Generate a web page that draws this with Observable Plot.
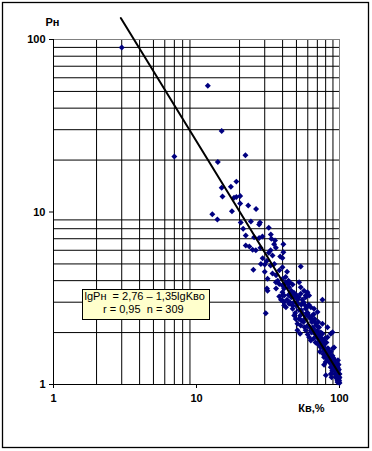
<!DOCTYPE html>
<html><head><meta charset="utf-8">
<script src="https://cdn.jsdelivr.net/npm/d3@7"></script>
<script src="https://cdn.jsdelivr.net/npm/@observablehq/plot@0.6"></script>
<style>body{margin:0;background:#fff} svg{display:block}</style>
</head><body><div id="chart"></div>
<script>
// Кв, % (x) and Рн (y) for each observation
const kv = [3,12,15,7,22,14.1,19,17.4,15,15.2,18.3,19,20.2,20.2,23,26.1,17.7,12.9,14,20.4,24,27.8,27.4,21.2,32,
  22.1,25.3,27.4,28.9,33.1,33.4,22.1,23.4,24.7,26,34.9,35.9,40.5,40.5,38.5,39.9,28.2,30,39.9,25,53.6,31.4,35.9,37.9,39.9,
  43.3,44.4,45.6,52.2,53.6,56.5,59.7,58,31.1,31.4,39.9,41,76,37.9,30.5,41,42.2,44.4,46.9,39.9,41,53.6,58,61.3,48.2,49.4,
  50.8,53.6,63,66.4,70.2,64.7,66.4,68.3,72,50.8,53,58,61.3,63,76,82.4,86.9,89.3,70.2,74,78,82.4,78,82.4,84.6,86.9,89.3,
  92.7,96.8,80.2,86.9,94.2,96.8,99,94.2,96.8,96.8,82.4,35.4,91.7,76,
  36,38,42,44,36,39,43,41,37,45,46,47,
  48,50,52,54,49,51,53,55,47,56,50,54,
  57,59,60,62,64,58,61,63,65,60,66,57,
  67,69,71,73,68,70,72,74,75,66,71,73,
  76,78,80,82,84,77,79,81,83,85,80,78,
  86,88,90,92,94,87,89,91,93,95,88,90,
  96,97,98,99,100,97,98,99.5,96,100,98.5,97.5,
  29,31,33,30,32,34,28,33,35,34,
  40,42,44,46,48,43,45,47,49,40,
  51,52,55,57,59,52,56,58,54,60,
  61,63,65,67,69,62,64,66,68,70,
  71,73,75,77,79,72,74,76,78,80,
  81,83,85,87,89,82,84,86,88,90,
  91,92,93,94,95,96,97,98,99,100,99,97];
const pn = [90,54,29.5,21,21.3,19.5,15,14,13.8,12.3,12.1,12.2,12.4,11.2,10.9,10.4,10.1,9.7,9.05,8.7,8.8,8.7,8.46,8,8.1,
  7.3,7.14,7.06,7.2,7.4,7.0,6.4,6.3,6.04,6,6.5,6.2,6.5,5.85,5.52,5.42,5,4.96,4.79,4.62,4.83,4.1,3.92,3.83,3.75,
  3.83,3.66,3.43,3.92,3.66,3.5,3.43,3.28,3.6,3.5,3.43,3.28,3.1,3.24,2.59,2.87,2.8,2.94,2.87,3.07,3.0,3.36,3.2,3.28,2.51,2.4,
  2.25,2.2,2.8,2.75,2.63,2.51,2.35,2.25,2.15,2.06,1.97,2.06,1.88,1.8,1.97,1.88,1.97,2.01,1.72,1.64,1.57,1.54,1.44,1.38,1.35,1.26,1.47,
  1.38,1.32,1.13,1.15,1.1,1.05,1.03,1.18,1.2,1.26,2.15,6.84,1.64,2.25,
  4.3,4.6,4.2,3.3,3.6,3.1,4.5,3.6,4.0,3.9,3.2,3.8,
  3.0,3.3,2.7,2.9,2.6,3.1,2.5,2.6,2.75,3.0,2.85,2.35,
  2.4,2.6,2.2,2.45,2.3,2.75,2.9,2.05,2.15,1.95,2.55,2.15,
  2.0,1.9,1.95,1.8,1.75,2.05,1.7,2.0,1.75,1.85,2.3,1.55,
  1.65,1.7,1.6,1.45,1.5,1.5,1.85,1.75,1.62,1.42,1.35,1.3,
  1.45,1.4,1.3,1.25,1.3,1.55,1.2,1.42,1.15,1.22,1.1,1.62,
  1.18,1.12,1.08,1.15,1.1,1.25,1.2,1.05,1.08,1.02,1.3,1.38,
  5.4,5.2,4.9,4.5,5.8,4.4,6.2,6.0,5.0,5.6,
  4.1,3.9,4.0,3.5,3.4,3.1,3.0,3.3,3.2,3.3,
  2.95,3.2,3.1,2.9,2.8,2.4,2.3,2.5,2.7,2.6,
  2.5,2.4,2.35,2.4,2.2,2.15,2.0,2.1,1.95,1.9,
  1.85,1.9,1.85,1.78,1.6,1.95,1.8,1.7,1.62,1.5,
  1.55,1.5,1.55,1.45,1.35,1.6,1.4,1.35,1.3,1.42,
  1.3,1.35,1.28,1.22,1.15,1.3,1.18,1.12,1.08,1.15,1.22,1.03];

const xTicks = [1, 10, 100];
const yTicks = [1, 10, 100];
const gridX = [2,3,4,5,6,7,8,9,20,30,40,50,60,70,80,90];
const gridY = [2,3,4,5,6,7,8,9,20,30,40,50,60,70,80,90];
const trendA = 2.76, trendB = -1.35;
const trendX = [2.955, 100];
const eqLine1 = "lgPн  = 2,76 – 1,35lgKво";
const eqLine2 = "r = 0,95  n = 309";
const yTitle = "Рн";
const xTitle = "Кв,%";

const points = kv.map((k, i) => ({k, p: pn[i]}));
const trend = trendX.map(k => ({k, p: Math.pow(10, trendA + trendB * Math.log10(k))}));

const font = "Arial, 'Liberation Sans', sans-serif";
const chart = Plot.plot({
  width: 372, height: 451,
  marginLeft: 53, marginRight: 33, marginTop: 39, marginBottom: 67,
  style: {fontFamily: font, background: "#fff", color: "#000"},
  x: {type: "log", domain: [1, 100]},
  y: {type: "log", domain: [1, 100]},
  marks: [
    Plot.ruleX(gridX, {stroke: "#000", strokeWidth: 1}),
    Plot.ruleY(gridY, {stroke: "#000", strokeWidth: 1}),
    Plot.ruleX([100], {stroke: "#808080"}),
    Plot.ruleY([100], {stroke: "#808080"}),
    Plot.ruleX([1], {stroke: "#000"}),
    Plot.ruleY([1], {stroke: "#000"}),
    Plot.axisX(xTicks, {tickSize: 4, tickPadding: 6, tickFormat: d => String(d), label: null, fontWeight: "bold", fontSize: 11}),
    Plot.axisY(yTicks, {tickSize: 4, tickPadding: 4, tickFormat: d => String(d), label: null, fontWeight: "bold", fontSize: 11}),
    Plot.dot(points, {x: "k", y: "p", symbol: "diamond2", r: 2.7, fill: "#000080", stroke: "none"}),
    Plot.line(trend, {x: "k", y: "p", stroke: "#000", strokeWidth: 2, clip: false}),
    Plot.text([yTitle], {text: d => d, frameAnchor: "top-left", dx: -8, dy: -17, textAnchor: "start", lineAnchor: "middle", fontWeight: "bold", fontSize: 11}),
    Plot.text([xTitle], {text: d => d, frameAnchor: "bottom-right", dx: -15, dy: 24, textAnchor: "end", lineAnchor: "middle", fontWeight: "bold", fontSize: 11})
  ]
});

const svg = d3.select(chart);
svg.append("rect").attr("x", 2.5).attr("y", 2.5).attr("width", 366).attr("height", 445)
  .attr("fill", "none").attr("stroke", "#000").attr("stroke-width", 1.3);
const lg = svg.append("g").attr("font-family", font).attr("font-size", 11).attr("fill", "#000")
  .attr("text-anchor", "start").style("text-anchor", "start");
lg.append("rect").attr("x", 82.5).attr("y", 289.5).attr("width", 127).attr("height", 30)
  .attr("fill", "#FFFFCC").attr("stroke", "#000").attr("stroke-width", 1);
lg.append("text").attr("x", 84.5).attr("y", 299.5).attr("xml:space", "preserve").style("white-space", "pre").text(eqLine1);
lg.append("text").attr("x", 103).attr("y", 313).attr("xml:space", "preserve").style("white-space", "pre").text(eqLine2);

document.getElementById("chart").appendChild(chart);
</script>
</body></html>
